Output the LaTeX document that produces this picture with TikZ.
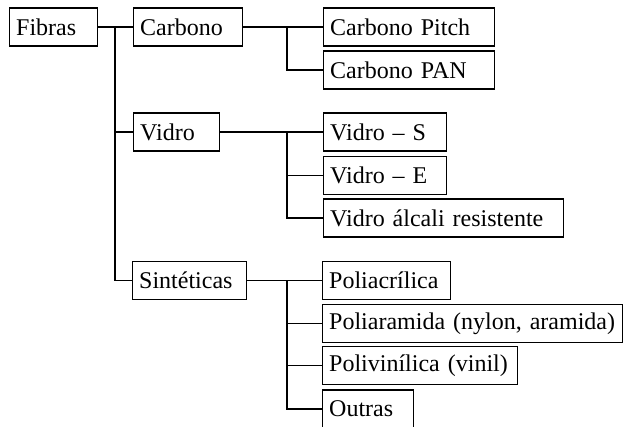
\documentclass[tikz,border=0pt]{standalone}
\usepackage{fontspec}
\setmainfont{Liberation Serif}
\tikzset{
	caixa/.style={draw, line width=0.8pt, anchor=west, align=left, inner xsep=5pt, inner ysep=2pt, minimum height=28.5pt, font=\fontsize{18}{21}\selectfont},
	liga/.style={line width=0.8pt}
}
\begin{document}
\begin{tikzpicture}[x=0.75pt,y=-0.75pt]
	\useasboundingbox (0,0) rectangle (626,426);
	\node[caixa,text width=56pt] (fibras) at (9,27) {Fibras}; %raiz
	\node[caixa,text width=71.75pt] (carbono) at (133,27) {Carbono}; %1
	\node[caixa,text width=54.5pt] (vidro) at (133,132) {Vidro}; %2
	\node[caixa,text width=75.5pt] (sinteticas) at (132,280.5) {Sintéticas}; %3
	\node[caixa,text width=118.25pt] (pitch) at (323,27) {Carbono Pitch}; %1
	\node[caixa,text width=118.25pt] (pan) at (323,70) {Carbono PAN}; %1
	\node[caixa,text width=82.25pt] (vidroS) at (323,132) {Vidro -- S}; %2
	\node[caixa,text width=82.25pt] (vidroE) at (323,175.5) {Vidro -- E}; %2
	\node[caixa,text width=170pt] (alcali) at (323,218) {Vidro álcali resistente}; %2
	\node[caixa,text width=86pt] (poliacr) at (322,280.5) {Poliacrílica}; %3
	\node[caixa,text width=215pt] (poliaram) at (322,323.5) {Poliaramida (nylon, aramida)}; %3
	\node[caixa,text width=136.25pt] (polivin) at (322,365.5) {Polivinílica (vinil)}; %3
	\node[caixa,text width=58.25pt] (outras) at (322,409) {Outras}; %3
	\coordinate (r0) at (115,27);
	\coordinate (r1) at (287,27);
	\coordinate (r2) at (287,132);
	\coordinate (r3) at (287,280.5);
	\draw[liga] (fibras.east) -- (carbono.west);
	\draw[liga] (r0) |- (vidro.west);
	\draw[liga] (r0) |- (sinteticas.west);
	\draw[liga] (carbono.east) -- (pitch.west);
	\draw[liga] (r1) |- (pan.west);
	\draw[liga] (vidro.east) -- (vidroS.west);
	\draw[liga] (r2) |- (vidroE.west);
	\draw[liga] (r2) |- (alcali.west);
	\draw[liga] (sinteticas.east) -- (poliacr.west);
	\draw[liga] (r3) |- (poliaram.west);
	\draw[liga] (r3) |- (polivin.west);
	\draw[liga] (r3) |- (outras.west);
\end{tikzpicture}
\end{document}
